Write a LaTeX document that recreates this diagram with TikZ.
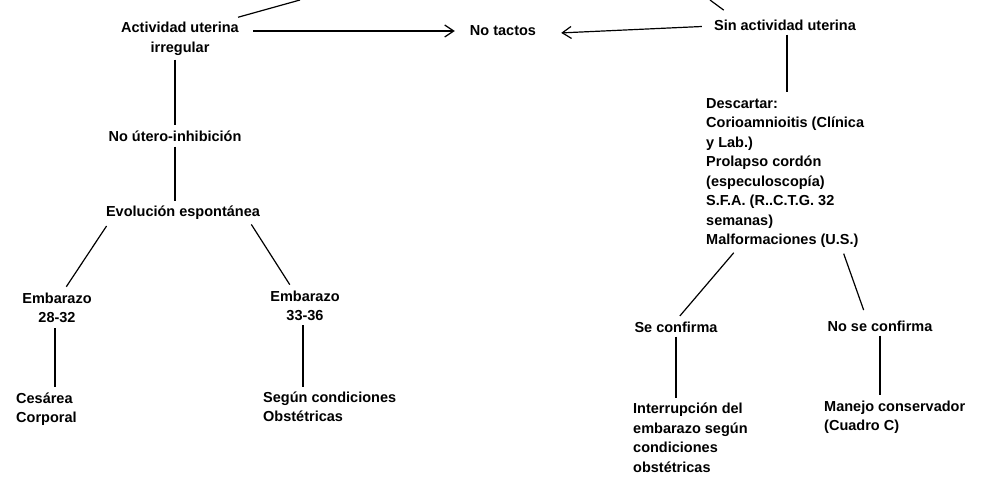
\documentclass[tikz,border=0pt]{standalone}
\usepackage{fontspec}
\setmainfont{Liberation Sans}
\usetikzlibrary{arrows.meta}
\tikzset{
  >={Straight Barb[length=9pt,width=12pt]},
  box/.style={font=\fontsize{14.5}{19.5}\selectfont\bfseries, inner sep=1pt, align=center},
  boxl/.style={box, align=left, anchor=west},
  link/.style={line width=1.2pt},
}
\begin{document}
\begin{tikzpicture}[x=1pt,y=-1pt]
\useasboundingbox (0,0) rectangle (993,481);

% Top row
\node[box] (act) at (180,39) {Actividad uterina\\irregular};
\node[box] (notact) at (503,31) {No tactos};
\node[box] (sin) at (785,25) {Sin actividad uterina};
\coordinate (topA) at (300,0);
\coordinate (topB) at (710,0);

% Left branch
\node[box] (noutero) at (175,136) {No útero-inhibición};
\node[box] (evol) at (183,213) {Evolución espontánea};
\node[box] (emb1) at (57,308) {Embarazo\\28-32};
\node[box] (emb2) at (305,306) {Embarazo\\33-36};
\node[boxl] (ces) at (15,409) {Cesárea\\Corporal};
\node[boxl] (segun) at (262,407) {Según condiciones\\Obstétricas};

% Right branch
\node[boxl] (desc) at (705,173) {Descartar:\\Corioamnioitis (Clínica\\y Lab.)\\Prolapso cordón\\(especuloscopía)\\S.F.A. (R..C.T.G. 32\\semanas)\\Malformaciones (U.S.)};
\node[box] (secon) at (676,327) {Se confirma};
\node[box] (nosecon) at (880,326) {No se confirma};
\node[boxl] (interr) at (632,438) {Interrupción del\\embarazo según\\condiciones\\obstétricas};
\node[boxl] (manejo) at (823,417) {Manejo conservador\\(Cuadro C)};

% Connectors
\draw[link] ([xshift=-2,yshift=4]act.north east) -- (topA);
\draw[link,shorten <=14pt] ([xshift=-50]sin.north) -- (topB);
\draw[link,->,shorten <=13pt,shorten >=14pt] (act.east |- notact.west) -- (notact.west);
\draw[link,->,shorten <=11pt,shorten >=24pt] ([yshift=-1]sin.west) -- ([yshift=-3]notact.east);
\draw[link,shorten <=3pt,shorten >=5pt] ([xshift=2]sin.south) -- ([xshift=2]sin.south |- desc.north);
\draw[link,shorten <=3pt,shorten >=4pt] (noutero.north |- act.south) -- (noutero.north);
\draw[link,shorten <=4pt,shorten >=4pt] (noutero.south) -- (noutero.south |- evol.north);
\draw[link,shorten <=6pt,shorten >=6pt] ([xshift=5]evol.south west) -- ([xshift=6]emb1.north);
\draw[link,shorten <=4pt,shorten >=6pt] ([xshift=-12]evol.south east) -- ([xshift=-12]emb2.north);
\draw[link,shorten <=4pt,shorten >=4pt] ([xshift=-2]emb1.south) -- ([xshift=-2]emb1.south |- ces.north);
\draw[link,shorten <=3pt,shorten >=4pt] ([xshift=-2]emb2.south) -- ([xshift=-2]emb2.south |- segun.north);
\draw[link,shorten <=5pt,shorten >=6pt] ([xshift=32]desc.south west) -- (secon.north);
\draw[link,shorten <=5pt,shorten >=10pt] ([xshift=137]desc.south west) -- ([xshift=-13]nosecon.north);
\draw[link,shorten <=3pt,shorten >=4pt] (secon.south) -- (secon.south |- interr.north);
\draw[link,shorten <=3pt,shorten >=4pt] (nosecon.south) -- (nosecon.south |- manejo.north);
\end{tikzpicture}
\end{document}
